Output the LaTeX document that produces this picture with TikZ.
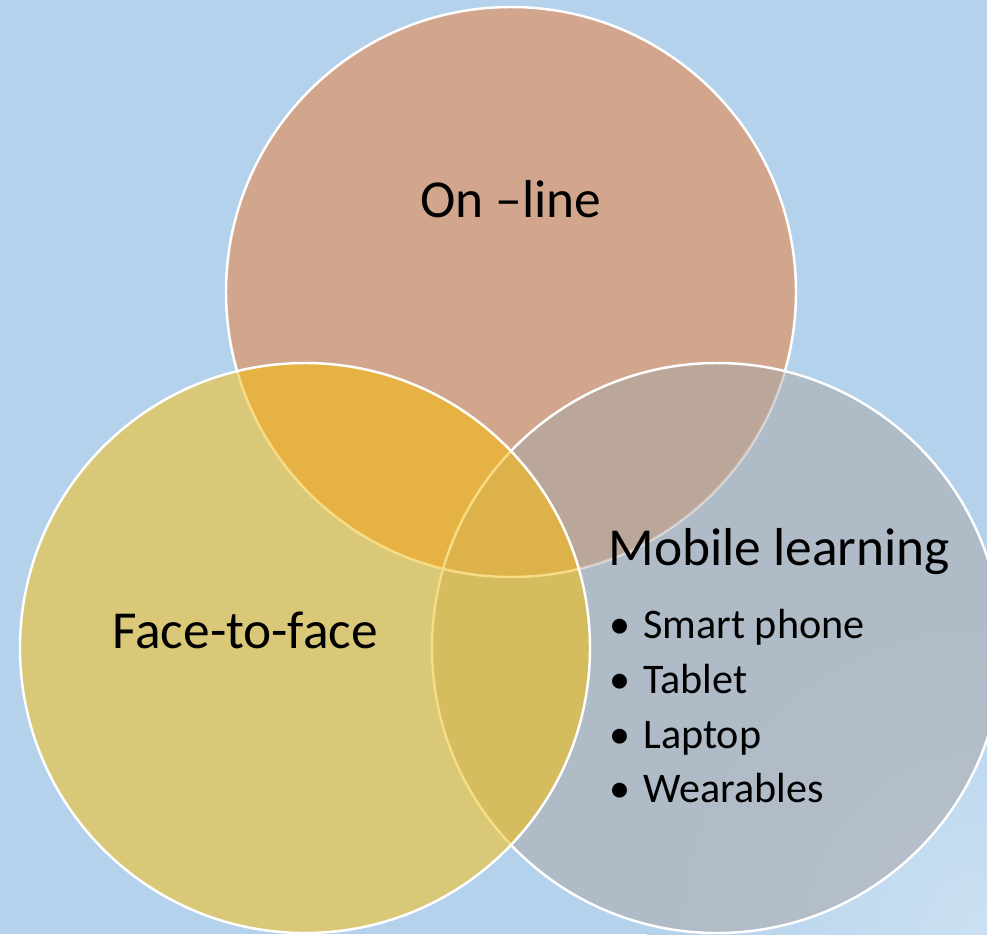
\documentclass[tikz,border=0pt]{standalone}
\usepackage{fontspec}
\setmainfont{Carlito}
\definecolor{bgblue}{HTML}{B4D2EC}
\definecolor{cornerblue}{HTML}{CBE0F2}
\definecolor{topcol}{HTML}{D1A68D}
\definecolor{leftcol}{HTML}{D9C878}
\definecolor{rightcol}{RGB}{172,172,175}
\definecolor{tlcol}{HTML}{E7B244}
\definecolor{trcol}{HTML}{BAA79A}
\definecolor{lrcol}{HTML}{D5BD5F}
\definecolor{tlrcol}{HTML}{DEB24A}
\definecolor{inyellow}{HTML}{F8DC84}
\begin{document}
\begin{tikzpicture}[x=0.02cm, y=-0.02cm,
	ring/.style = {draw=white, line width=1.4pt},
	head/.style = {inner sep=0, anchor=base, font=\fontsize{30.4}{36}\selectfont},
	item/.style = {inner sep=0, anchor=base west, font=\fontsize{24}{29}\selectfont}]
	\useasboundingbox (0,0) rectangle (987,934);
	\clip (0,0) rectangle (987,934);
	\fill[bgblue] (0,0) rectangle (987,934);
	\shade[inner color=cornerblue, outer color=bgblue] (987,934) circle (340);
	\coordinate (ctop) at (511,292);
	\coordinate (cleft) at (305,648);
	\coordinate (cright) at (717,648);
	\fill[topcol] (ctop) circle (285);
	\draw[ring] (ctop) circle (285);
	\begin{scope}
		\clip (cright) circle (285);
		\fill[rightcol, fill opacity=0.6] (cright) circle (285);
		\fill[trcol] (ctop) circle (285);
		\draw[draw=white, draw opacity=0.35, line width=1.4pt] (ctop) circle (285);
	\end{scope}
	\draw[ring] (cright) circle (285);
	\begin{scope}
		\clip (cleft) circle (285);
		\fill[leftcol] (cleft) circle (285);
		\fill[lrcol] (cright) circle (285);
		\fill[tlcol] (ctop) circle (285);
		\begin{scope}
			\clip (cright) circle (285);
			\fill[tlrcol] (ctop) circle (285);
		\end{scope}
		\draw[draw=inyellow, line width=1.4pt] (ctop) circle (285) (cright) circle (285);
	\end{scope}
	\draw[ring] (cleft) circle (285);
	\node (online) at (511,217) [head] {On –line};
	\node (face) at (245,648) [head] {Face-to-face};
	\node (mobile) at (608,565) [head, anchor=base west] {Mobile learning};
	\node (b1) at (609,638) [item] {•};
	\node (smart) at (643,638) [item] {Smart phone};
	\node (b2) at (609,693) [item] {•};
	\node (tablet) at (643,693) [item] {Tablet};
	\node (b3) at (609,748) [item] {•};
	\node (laptop) at (643,748) [item] {Laptop};
	\node (b4) at (609,802) [item] {•};
	\node (wear) at (643,802) [item] {Wearables};
\end{tikzpicture}
\end{document}
